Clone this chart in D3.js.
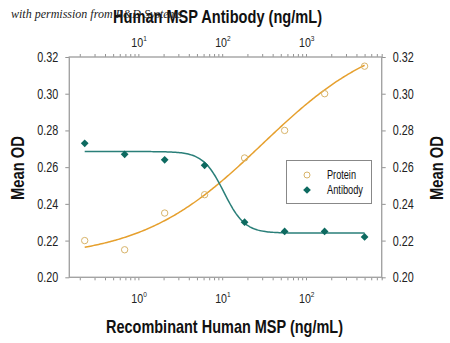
<!DOCTYPE html>
<html><head><meta charset="utf-8">
<script src="https://cdn.jsdelivr.net/npm/d3@7"></script>
<style>
body{margin:0;background:#fff;}
svg{display:block;font-family:"Liberation Sans",Arial,sans-serif;}
</style></head><body>
<svg id="c" width="450" height="343"></svg>
<script>
// ---- data ----
const proteinConc = [0.229, 0.686, 2.06, 6.17, 18.5, 55.6, 167, 500];      // ng/mL (bottom axis)
const proteinOD   = [0.220, 0.215, 0.235, 0.245, 0.265, 0.280, 0.300, 0.315];
const antibodyConc = [2.29, 6.86, 20.6, 61.7, 185, 556, 1667, 5000];      // ng/mL (top axis)
const antibodyOD   = [0.273, 0.267, 0.264, 0.261, 0.230, 0.225, 0.225, 0.222];
// 4-parameter logistic fits [low-conc asymptote, high-conc asymptote, EC50, hill]
const proteinFit  = [0.210, 0.335, 30, 0.6];
const antibodyFit = [0.2685, 0.2241, 105, 3.5];
const yTicks = [0.20, 0.22, 0.24, 0.26, 0.28, 0.30, 0.32];
const bottomDecades = [0, 1, 2];
const topDecades = [1, 2, 3];
const seriesNames = ["Protein", "Antibody"];

const svg = d3.select("#c");
const L = 69.3, R = 381.7, T = 57, B = 277.3;
const axisColor = "#a3a3a3";
const protColor = "#e6a02e", protMarker = "#d8b46a";
const abColor = "#2a7f79", abMarker = "#0d6a60";

const xB = d3.scaleLog().domain([0.15, 800]).range([L, R]);
const xT = d3.scaleLog().domain([1.5, 8000]).range([L, R]);
const y = d3.scaleLinear().domain([0.20, 0.32]).range([B, T]);

function fit(sel, w){ return sel.attr("textLength", w).attr("lengthAdjust","spacingAndGlyphs"); }

function logMinor(dom){
  const out=[];
  for(let e=Math.floor(Math.log10(dom[0])); e<=Math.ceil(Math.log10(dom[1])); e++){
    for(let m=1;m<10;m++){const v=m*Math.pow(10,e); if(v>=dom[0]-1e-9 && v<=dom[1]+1e-9) out.push(v);}
  }
  return out;
}

const g = svg.append("g");
g.append("g").attr("transform",`translate(0,${B})`)
  .call(d3.axisBottom(xB).tickValues(logMinor(xB.domain())).tickSize(3).tickFormat(""));
g.append("g").attr("transform",`translate(0,${T})`)
  .call(d3.axisTop(xT).tickValues(logMinor(xT.domain())).tickSize(3).tickFormat(""));
g.append("g").attr("transform",`translate(${L},0)`)
  .call(d3.axisLeft(y).tickValues(yTicks).tickSize(4).tickFormat(""));
g.append("g").attr("transform",`translate(${R},0)`)
  .call(d3.axisRight(y).tickValues(yTicks).tickSize(4).tickFormat(""));
g.selectAll(".tick line").attr("stroke","#777").attr("stroke-width",0.8);
g.selectAll(".domain").remove();
svg.append("rect").attr("x",L).attr("y",T).attr("width",R-L).attr("height",B-T)
  .attr("fill","none").attr("stroke",axisColor).attr("stroke-width",1.4);

// y labels
svg.selectAll(".yl").data(yTicks).enter().append("text")
  .attr("x",L-11).attr("y",d=>y(d)+5).attr("text-anchor","end")
  .attr("font-size",14).attr("fill","#222").text(d=>d.toFixed(2)).call(fit,21);
svg.selectAll(".yr").data(yTicks).enter().append("text")
  .attr("x",R+11).attr("y",d=>y(d)+5).attr("text-anchor","start")
  .attr("font-size",14).attr("fill","#222").text(d=>d.toFixed(2)).call(fit,21);

function powLabel(xs, e, yy){
  const t = svg.append("text").attr("transform",`translate(${xs-7},${yy}) scale(0.82,1)`)
    .attr("font-size",13).attr("fill","#222");
  t.append("tspan").text("10");
  t.append("tspan").attr("dy",-6).attr("font-size",8).text(e);
}
bottomDecades.forEach(e=>powLabel(xB(Math.pow(10,e)), e, 303));
topDecades.forEach(e=>powLabel(xT(Math.pow(10,e)), e, 47));

// titles
fit(svg.append("text").attr("x",106).attr("y",333)
  .attr("font-size",19).attr("font-weight","bold").attr("fill","#111")
  .text("Recombinant Human MSP (ng/mL)"), 237);
fit(svg.append("text").attr("x",113).attr("y",23)
  .attr("font-size",19).attr("font-weight","bold").attr("fill","#111")
  .text("Human MSP Antibody (ng/mL)"), 209);
fit(svg.append("text").attr("transform","translate(24,200) rotate(-90)")
  .attr("font-size",19).attr("font-weight","bold").attr("fill","#111").text("Mean OD"), 64);
fit(svg.append("text").attr("transform","translate(443,200) rotate(-90)")
  .attr("font-size",19).attr("font-weight","bold").attr("fill","#111").text("Mean OD"), 64);
// watermark
svg.append("text").attr("x",11).attr("y",18)
  .style("font-family","'Liberation Serif','DejaVu Serif',serif").style("font-style","italic")
  .attr("font-size",12).attr("fill","#222").text("with permission from R&D Systems");

// fitted curves
function fourPL(p, x){ return p[0] + (p[1]-p[0])/(1+Math.pow(x/p[2], -p[3])); }
function curvePts(xs, p, scale){
  const lo=Math.log10(d3.min(xs)), hi=Math.log10(d3.max(xs));
  return d3.range(0,201).map(i=>{const x=Math.pow(10,lo+(hi-lo)*i/200); return [scale(x), y(fourPL(p,x))];});
}
const line = d3.line();
svg.append("path").attr("d",line(curvePts(proteinConc, proteinFit, xB)))
  .attr("fill","none").attr("stroke",protColor).attr("stroke-width",1.5);
svg.append("path").attr("d",line(curvePts(antibodyConc, antibodyFit, xT)))
  .attr("fill","none").attr("stroke",abColor).attr("stroke-width",1.5);

// markers
svg.selectAll(".pc").data(proteinConc).enter().append("circle")
  .attr("cx",d=>xB(d)).attr("cy",(d,i)=>y(proteinOD[i])).attr("r",3.2)
  .attr("fill","none").attr("stroke",protMarker).attr("stroke-width",1);
const dia = d3.symbol().type(d3.symbolSquare).size(30);
svg.selectAll(".ad").data(antibodyConc).enter().append("path")
  .attr("d",dia).attr("transform",(d,i)=>`translate(${xT(d)},${y(antibodyOD[i])}) rotate(45)`)
  .attr("fill",abMarker);

// legend
svg.append("rect").attr("x",286.5).attr("y",160.5).attr("width",85).attr("height",43)
  .attr("fill","#fff").attr("stroke","#888").attr("stroke-width",1);
svg.append("circle").attr("cx",307).attr("cy",175).attr("r",3)
  .attr("fill","none").attr("stroke",protMarker).attr("stroke-width",1);
svg.append("path").attr("d",dia).attr("transform","translate(307,190) rotate(45)").attr("fill",abMarker);
svg.selectAll(".lt").data(seriesNames).enter().append("text")
  .attr("x",327).attr("y",(d,i)=>179+i*15).attr("font-size",12).attr("fill","#111")
  .text(d=>d).each(function(d,i){ fit(d3.select(this), i===0?29:36); });
</script>
</body></html>
